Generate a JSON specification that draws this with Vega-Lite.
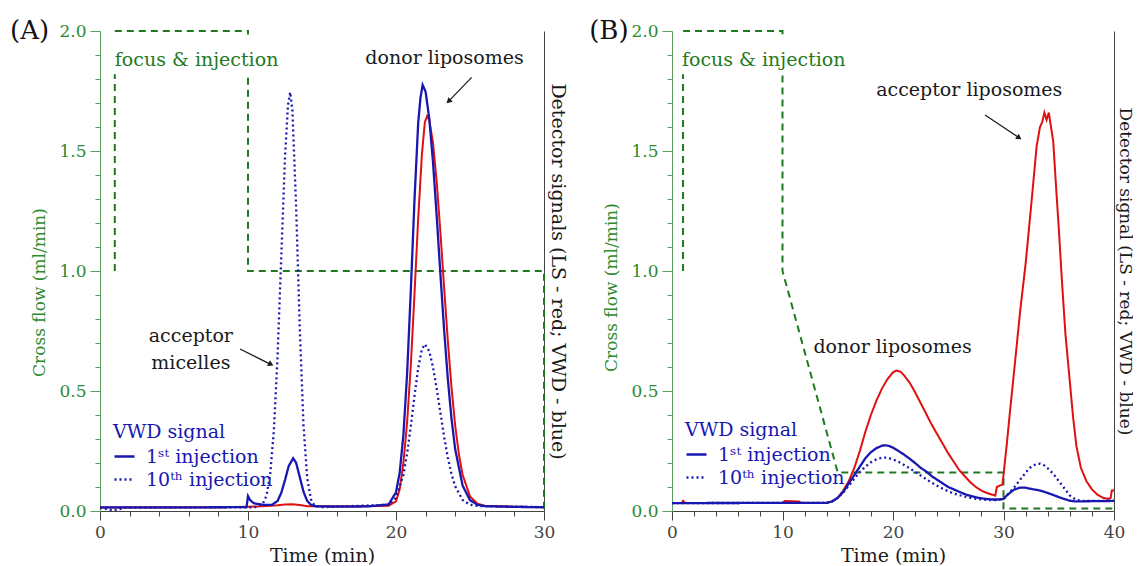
{
  "$schema": "https://vega.github.io/schema/vega-lite/v6.json",
  "padding": {"left": 10, "top": 18, "right": 0, "bottom": 0},
  "spacing": 128,
  "bounds": "flush",
  "config": {
    "font": "DejaVu Serif",
    "view": {"stroke": null},
    "axis": {"labelFont": "DejaVu Serif", "titleFont": "DejaVu Serif", "titleFontWeight": "normal", "grid": false, "labelOverlap": false, "labelBound": false, "labelFlush": false},
    "legend": {"labelFont": "DejaVu Serif", "titleFont": "DejaVu Serif", "titleFontWeight": "normal"},
    "text": {"font": "DejaVu Serif"}
  },
  "resolve": {"scale": {"strokeDash": "independent", "x": "independent", "y": "independent"}, "legend": {"strokeDash": "independent"}},
  "datasets": {
    "one": [{}],
    "flowA": [
      {"t": 1, "flow": 1.0}, {"t": 1, "flow": 2.0}, {"t": 10, "flow": 2.0}, {"t": 10, "flow": 1.0},
      {"t": 30, "flow": 1.0}, {"t": 30, "flow": 0.0}
    ],
    "flowB": [
      {"t": 1, "flow": 1.0}, {"t": 1, "flow": 2.0}, {"t": 10, "flow": 2.0}, {"t": 10, "flow": 1.0},
      {"t": 15, "flow": 0.16}, {"t": 30, "flow": 0.16}, {"t": 30, "flow": 0.01}, {"t": 40, "flow": 0.01}
    ],
    "sigA": [
      {"t": 0, "v": 0.015, "s": "LS"}, {"t": 2, "v": 0.015, "s": "LS"}, {"t": 5, "v": 0.015, "s": "LS"}, {"t": 8, "v": 0.016, "s": "LS"},
      {"t": 10, "v": 0.018, "s": "LS"}, {"t": 11, "v": 0.02, "s": "LS"}, {"t": 12, "v": 0.024, "s": "LS"}, {"t": 12.5, "v": 0.027, "s": "LS"},
      {"t": 13, "v": 0.028, "s": "LS"}, {"t": 13.5, "v": 0.025, "s": "LS"}, {"t": 14, "v": 0.02, "s": "LS"}, {"t": 16, "v": 0.02, "s": "LS"},
      {"t": 18, "v": 0.02, "s": "LS"}, {"t": 19.5, "v": 0.022, "s": "LS"}, {"t": 20, "v": 0.04, "s": "LS"}, {"t": 20.25, "v": 0.09, "s": "LS"},
      {"t": 20.5, "v": 0.2, "s": "LS"}, {"t": 20.75, "v": 0.369, "s": "LS"}, {"t": 21, "v": 0.606, "s": "LS"}, {"t": 21.25, "v": 0.904, "s": "LS"},
      {"t": 21.5, "v": 1.219, "s": "LS"}, {"t": 21.75, "v": 1.486, "s": "LS"}, {"t": 21.95, "v": 1.62, "s": "LS"}, {"t": 22.1, "v": 1.645, "s": "LS"},
      {"t": 22.25, "v": 1.629, "s": "LS"}, {"t": 22.5, "v": 1.535, "s": "LS"}, {"t": 22.75, "v": 1.371, "s": "LS"}, {"t": 23, "v": 1.161, "s": "LS"},
      {"t": 23.25, "v": 0.932, "s": "LS"}, {"t": 23.5, "v": 0.711, "s": "LS"}, {"t": 23.75, "v": 0.515, "s": "LS"}, {"t": 24, "v": 0.356, "s": "LS"},
      {"t": 24.25, "v": 0.236, "s": "LS"}, {"t": 24.5, "v": 0.151, "s": "LS"}, {"t": 25, "v": 0.061, "s": "LS"}, {"t": 25.5, "v": 0.03, "s": "LS"},
      {"t": 26, "v": 0.022, "s": "LS"}, {"t": 28, "v": 0.018, "s": "LS"}, {"t": 30, "v": 0.016, "s": "LS"},

      {"t": 0, "v": 0.015, "s": "1ˢᵗ injection"}, {"t": 5, "v": 0.015, "s": "1ˢᵗ injection"}, {"t": 9.9, "v": 0.016, "s": "1ˢᵗ injection"},
      {"t": 10, "v": 0.062, "s": "1ˢᵗ injection"}, {"t": 10.15, "v": 0.045, "s": "1ˢᵗ injection"}, {"t": 10.4, "v": 0.032, "s": "1ˢᵗ injection"},
      {"t": 11, "v": 0.026, "s": "1ˢᵗ injection"}, {"t": 11.6, "v": 0.025, "s": "1ˢᵗ injection"}, {"t": 12, "v": 0.042, "s": "1ˢᵗ injection"},
      {"t": 12.25, "v": 0.076, "s": "1ˢᵗ injection"}, {"t": 12.5, "v": 0.129, "s": "1ˢᵗ injection"}, {"t": 12.75, "v": 0.187, "s": "1ˢᵗ injection"},
      {"t": 13.05, "v": 0.22, "s": "1ˢᵗ injection"}, {"t": 13.25, "v": 0.201, "s": "1ˢᵗ injection"}, {"t": 13.5, "v": 0.141, "s": "1ˢᵗ injection"},
      {"t": 13.75, "v": 0.08, "s": "1ˢᵗ injection"}, {"t": 14, "v": 0.042, "s": "1ˢᵗ injection"}, {"t": 14.25, "v": 0.026, "s": "1ˢᵗ injection"},
      {"t": 14.5, "v": 0.02, "s": "1ˢᵗ injection"}, {"t": 16, "v": 0.018, "s": "1ˢᵗ injection"}, {"t": 18, "v": 0.019, "s": "1ˢᵗ injection"},
      {"t": 19.5, "v": 0.027, "s": "1ˢᵗ injection"}, {"t": 20, "v": 0.078, "s": "1ˢᵗ injection"}, {"t": 20.25, "v": 0.16, "s": "1ˢᵗ injection"},
      {"t": 20.5, "v": 0.317, "s": "1ˢᵗ injection"}, {"t": 20.75, "v": 0.571, "s": "1ˢᵗ injection"}, {"t": 21, "v": 0.917, "s": "1ˢᵗ injection"},
      {"t": 21.25, "v": 1.297, "s": "1ˢᵗ injection"}, {"t": 21.5, "v": 1.617, "s": "1ˢᵗ injection"}, {"t": 21.65, "v": 1.72, "s": "1ˢᵗ injection"},
      {"t": 21.8, "v": 1.775, "s": "1ˢᵗ injection"}, {"t": 22, "v": 1.747, "s": "1ˢᵗ injection"}, {"t": 22.25, "v": 1.634, "s": "1ˢᵗ injection"},
      {"t": 22.5, "v": 1.454, "s": "1ˢᵗ injection"}, {"t": 22.75, "v": 1.229, "s": "1ˢᵗ injection"}, {"t": 23, "v": 0.988, "s": "1ˢᵗ injection"},
      {"t": 23.25, "v": 0.756, "s": "1ˢᵗ injection"}, {"t": 23.5, "v": 0.552, "s": "1ˢᵗ injection"}, {"t": 23.75, "v": 0.385, "s": "1ˢᵗ injection"},
      {"t": 24, "v": 0.257, "s": "1ˢᵗ injection"}, {"t": 24.5, "v": 0.106, "s": "1ˢᵗ injection"}, {"t": 25, "v": 0.045, "s": "1ˢᵗ injection"},
      {"t": 25.5, "v": 0.026, "s": "1ˢᵗ injection"}, {"t": 26, "v": 0.02, "s": "1ˢᵗ injection"}, {"t": 28, "v": 0.017, "s": "1ˢᵗ injection"},
      {"t": 30, "v": 0.016, "s": "1ˢᵗ injection"},

      {"t": 0, "v": 0.014, "s": "10ᵗʰ injection"}, {"t": 0.9, "v": 0.002, "s": "10ᵗʰ injection"}, {"t": 1.7, "v": 0.014, "s": "10ᵗʰ injection"},
      {"t": 5, "v": 0.015, "s": "10ᵗʰ injection"}, {"t": 10, "v": 0.015, "s": "10ᵗʰ injection"}, {"t": 10.5, "v": 0.016, "s": "10ᵗʰ injection"},
      {"t": 11, "v": 0.03, "s": "10ᵗʰ injection"}, {"t": 11.25, "v": 0.064, "s": "10ᵗʰ injection"}, {"t": 11.5, "v": 0.153, "s": "10ᵗʰ injection"},
      {"t": 11.75, "v": 0.337, "s": "10ᵗʰ injection"}, {"t": 12, "v": 0.649, "s": "10ᵗʰ injection"}, {"t": 12.25, "v": 1.064, "s": "10ᵗʰ injection"},
      {"t": 12.5, "v": 1.474, "s": "10ᵗʰ injection"}, {"t": 12.7, "v": 1.691, "s": "10ᵗʰ injection"}, {"t": 12.85, "v": 1.745, "s": "10ᵗʰ injection"},
      {"t": 13, "v": 1.669, "s": "10ᵗʰ injection"}, {"t": 13.25, "v": 1.271, "s": "10ᵗʰ injection"}, {"t": 13.5, "v": 0.758, "s": "10ᵗʰ injection"},
      {"t": 13.75, "v": 0.357, "s": "10ᵗʰ injection"}, {"t": 14, "v": 0.138, "s": "10ᵗʰ injection"}, {"t": 14.25, "v": 0.049, "s": "10ᵗʰ injection"},
      {"t": 14.5, "v": 0.022, "s": "10ᵗʰ injection"}, {"t": 15, "v": 0.016, "s": "10ᵗʰ injection"}, {"t": 19.5, "v": 0.026, "s": "10ᵗʰ injection"},
      {"t": 20, "v": 0.055, "s": "10ᵗʰ injection"}, {"t": 20.5, "v": 0.151, "s": "10ᵗʰ injection"}, {"t": 20.75, "v": 0.239, "s": "10ᵗʰ injection"},
      {"t": 21, "v": 0.353, "s": "10ᵗʰ injection"}, {"t": 21.25, "v": 0.48, "s": "10ᵗʰ injection"}, {"t": 21.5, "v": 0.596, "s": "10ᵗʰ injection"},
      {"t": 21.75, "v": 0.674, "s": "10ᵗʰ injection"}, {"t": 21.95, "v": 0.695, "s": "10ᵗʰ injection"}, {"t": 22.25, "v": 0.665, "s": "10ᵗʰ injection"},
      {"t": 22.5, "v": 0.6, "s": "10ᵗʰ injection"}, {"t": 22.75, "v": 0.51, "s": "10ᵗʰ injection"}, {"t": 23, "v": 0.409, "s": "10ᵗʰ injection"},
      {"t": 23.25, "v": 0.31, "s": "10ᵗʰ injection"}, {"t": 23.5, "v": 0.223, "s": "10ᵗʰ injection"}, {"t": 23.75, "v": 0.154, "s": "10ᵗʰ injection"},
      {"t": 24, "v": 0.103, "s": "10ᵗʰ injection"}, {"t": 24.5, "v": 0.046, "s": "10ᵗʰ injection"}, {"t": 25, "v": 0.026, "s": "10ᵗʰ injection"},
      {"t": 25.5, "v": 0.021, "s": "10ᵗʰ injection"}, {"t": 30, "v": 0.016, "s": "10ᵗʰ injection"}
    ],
    "sigB": [
      {"t": 0, "v": 0.033, "s": "LS"}, {"t": 0.9, "v": 0.033, "s": "LS"}, {"t": 1.0, "v": 0.042, "s": "LS"}, {"t": 1.2, "v": 0.033, "s": "LS"},
      {"t": 10, "v": 0.033, "s": "LS"}, {"t": 10.2, "v": 0.042, "s": "LS"}, {"t": 11.5, "v": 0.04, "s": "LS"}, {"t": 11.7, "v": 0.033, "s": "LS"},
      {"t": 14, "v": 0.034, "s": "LS"}, {"t": 14.5, "v": 0.04, "s": "LS"}, {"t": 15, "v": 0.055, "s": "LS"}, {"t": 15.5, "v": 0.085, "s": "LS"},
      {"t": 16, "v": 0.125, "s": "LS"}, {"t": 16.5, "v": 0.18, "s": "LS"}, {"t": 17, "v": 0.25, "s": "LS"}, {"t": 17.5, "v": 0.33, "s": "LS"},
      {"t": 18, "v": 0.4, "s": "LS"}, {"t": 18.5, "v": 0.46, "s": "LS"}, {"t": 19, "v": 0.51, "s": "LS"}, {"t": 19.5, "v": 0.55, "s": "LS"},
      {"t": 20, "v": 0.578, "s": "LS"}, {"t": 20.3, "v": 0.585, "s": "LS"}, {"t": 20.7, "v": 0.58, "s": "LS"}, {"t": 21, "v": 0.565, "s": "LS"},
      {"t": 21.5, "v": 0.535, "s": "LS"}, {"t": 22, "v": 0.495, "s": "LS"}, {"t": 22.5, "v": 0.45, "s": "LS"}, {"t": 23, "v": 0.405, "s": "LS"},
      {"t": 23.5, "v": 0.36, "s": "LS"}, {"t": 24, "v": 0.32, "s": "LS"}, {"t": 24.5, "v": 0.28, "s": "LS"}, {"t": 25, "v": 0.24, "s": "LS"},
      {"t": 25.5, "v": 0.205, "s": "LS"}, {"t": 26, "v": 0.17, "s": "LS"}, {"t": 26.5, "v": 0.145, "s": "LS"}, {"t": 27, "v": 0.12, "s": "LS"},
      {"t": 27.5, "v": 0.1, "s": "LS"}, {"t": 28, "v": 0.085, "s": "LS"}, {"t": 28.5, "v": 0.075, "s": "LS"}, {"t": 29, "v": 0.068, "s": "LS"},
      {"t": 29.25, "v": 0.064, "s": "LS"}, {"t": 29.4, "v": 0.1, "s": "LS"}, {"t": 29.6, "v": 0.105, "s": "LS"}, {"t": 29.9, "v": 0.11, "s": "LS"},
      {"t": 30, "v": 0.15, "s": "LS"}, {"t": 30.3, "v": 0.28, "s": "LS"}, {"t": 30.6, "v": 0.42, "s": "LS"}, {"t": 31, "v": 0.6, "s": "LS"},
      {"t": 31.5, "v": 0.83, "s": "LS"}, {"t": 32, "v": 1.03, "s": "LS"}, {"t": 32.5, "v": 1.27, "s": "LS"}, {"t": 33, "v": 1.52, "s": "LS"},
      {"t": 33.3, "v": 1.6, "s": "LS"}, {"t": 33.5, "v": 1.62, "s": "LS"}, {"t": 33.7, "v": 1.66, "s": "LS"}, {"t": 33.9, "v": 1.63, "s": "LS"},
      {"t": 34.1, "v": 1.66, "s": "LS"}, {"t": 34.3, "v": 1.6, "s": "LS"}, {"t": 34.5, "v": 1.54, "s": "LS"}, {"t": 34.8, "v": 1.32, "s": "LS"},
      {"t": 35, "v": 1.18, "s": "LS"}, {"t": 35.3, "v": 0.95, "s": "LS"}, {"t": 35.6, "v": 0.74, "s": "LS"}, {"t": 36, "v": 0.54, "s": "LS"},
      {"t": 36.3, "v": 0.39, "s": "LS"}, {"t": 36.6, "v": 0.27, "s": "LS"}, {"t": 37, "v": 0.18, "s": "LS"}, {"t": 37.5, "v": 0.125, "s": "LS"},
      {"t": 38, "v": 0.09, "s": "LS"}, {"t": 38.5, "v": 0.068, "s": "LS"}, {"t": 39, "v": 0.055, "s": "LS"}, {"t": 39.5, "v": 0.05, "s": "LS"},
      {"t": 39.7, "v": 0.055, "s": "LS"}, {"t": 39.8, "v": 0.085, "s": "LS"}, {"t": 40, "v": 0.085, "s": "LS"},

      {"t": 0, "v": 0.033, "s": "1ˢᵗ injection"}, {"t": 14, "v": 0.034, "s": "1ˢᵗ injection"}, {"t": 14.5, "v": 0.04, "s": "1ˢᵗ injection"},
      {"t": 15, "v": 0.055, "s": "1ˢᵗ injection"}, {"t": 15.5, "v": 0.08, "s": "1ˢᵗ injection"}, {"t": 16, "v": 0.115, "s": "1ˢᵗ injection"},
      {"t": 16.5, "v": 0.15, "s": "1ˢᵗ injection"}, {"t": 17, "v": 0.185, "s": "1ˢᵗ injection"}, {"t": 17.5, "v": 0.22, "s": "1ˢᵗ injection"},
      {"t": 18, "v": 0.245, "s": "1ˢᵗ injection"}, {"t": 18.5, "v": 0.262, "s": "1ˢᵗ injection"}, {"t": 19, "v": 0.272, "s": "1ˢᵗ injection"},
      {"t": 19.3, "v": 0.274, "s": "1ˢᵗ injection"}, {"t": 19.7, "v": 0.27, "s": "1ˢᵗ injection"}, {"t": 20, "v": 0.264, "s": "1ˢᵗ injection"},
      {"t": 20.5, "v": 0.25, "s": "1ˢᵗ injection"}, {"t": 21, "v": 0.235, "s": "1ˢᵗ injection"}, {"t": 21.5, "v": 0.218, "s": "1ˢᵗ injection"},
      {"t": 22, "v": 0.2, "s": "1ˢᵗ injection"}, {"t": 22.5, "v": 0.18, "s": "1ˢᵗ injection"}, {"t": 23, "v": 0.165, "s": "1ˢᵗ injection"},
      {"t": 23.5, "v": 0.145, "s": "1ˢᵗ injection"}, {"t": 24, "v": 0.13, "s": "1ˢᵗ injection"}, {"t": 24.5, "v": 0.115, "s": "1ˢᵗ injection"},
      {"t": 25, "v": 0.1, "s": "1ˢᵗ injection"}, {"t": 25.5, "v": 0.09, "s": "1ˢᵗ injection"}, {"t": 26, "v": 0.08, "s": "1ˢᵗ injection"},
      {"t": 26.5, "v": 0.07, "s": "1ˢᵗ injection"}, {"t": 27, "v": 0.063, "s": "1ˢᵗ injection"}, {"t": 27.5, "v": 0.057, "s": "1ˢᵗ injection"},
      {"t": 28, "v": 0.053, "s": "1ˢᵗ injection"}, {"t": 28.5, "v": 0.05, "s": "1ˢᵗ injection"}, {"t": 29, "v": 0.048, "s": "1ˢᵗ injection"},
      {"t": 29.5, "v": 0.048, "s": "1ˢᵗ injection"}, {"t": 30, "v": 0.05, "s": "1ˢᵗ injection"}, {"t": 30.3, "v": 0.065, "s": "1ˢᵗ injection"},
      {"t": 30.7, "v": 0.08, "s": "1ˢᵗ injection"}, {"t": 31, "v": 0.09, "s": "1ˢᵗ injection"}, {"t": 31.5, "v": 0.097, "s": "1ˢᵗ injection"},
      {"t": 32, "v": 0.097, "s": "1ˢᵗ injection"}, {"t": 32.5, "v": 0.092, "s": "1ˢᵗ injection"}, {"t": 33, "v": 0.088, "s": "1ˢᵗ injection"},
      {"t": 33.5, "v": 0.083, "s": "1ˢᵗ injection"}, {"t": 34, "v": 0.075, "s": "1ˢᵗ injection"}, {"t": 34.5, "v": 0.067, "s": "1ˢᵗ injection"},
      {"t": 35, "v": 0.058, "s": "1ˢᵗ injection"}, {"t": 35.5, "v": 0.05, "s": "1ˢᵗ injection"}, {"t": 36, "v": 0.043, "s": "1ˢᵗ injection"},
      {"t": 36.5, "v": 0.04, "s": "1ˢᵗ injection"}, {"t": 40, "v": 0.042, "s": "1ˢᵗ injection"},

      {"t": 0, "v": 0.033, "s": "10ᵗʰ injection"}, {"t": 14, "v": 0.034, "s": "10ᵗʰ injection"}, {"t": 14.5, "v": 0.04, "s": "10ᵗʰ injection"},
      {"t": 15, "v": 0.055, "s": "10ᵗʰ injection"}, {"t": 15.5, "v": 0.078, "s": "10ᵗʰ injection"}, {"t": 16, "v": 0.105, "s": "10ᵗʰ injection"},
      {"t": 16.5, "v": 0.135, "s": "10ᵗʰ injection"}, {"t": 17, "v": 0.162, "s": "10ᵗʰ injection"}, {"t": 17.5, "v": 0.185, "s": "10ᵗʰ injection"},
      {"t": 18, "v": 0.203, "s": "10ᵗʰ injection"}, {"t": 18.5, "v": 0.215, "s": "10ᵗʰ injection"}, {"t": 19, "v": 0.222, "s": "10ᵗʰ injection"},
      {"t": 19.5, "v": 0.222, "s": "10ᵗʰ injection"}, {"t": 20, "v": 0.215, "s": "10ᵗʰ injection"}, {"t": 20.5, "v": 0.205, "s": "10ᵗʰ injection"},
      {"t": 21, "v": 0.192, "s": "10ᵗʰ injection"}, {"t": 21.5, "v": 0.178, "s": "10ᵗʰ injection"}, {"t": 22, "v": 0.163, "s": "10ᵗʰ injection"},
      {"t": 22.5, "v": 0.148, "s": "10ᵗʰ injection"}, {"t": 23, "v": 0.133, "s": "10ᵗʰ injection"}, {"t": 23.5, "v": 0.118, "s": "10ᵗʰ injection"},
      {"t": 24, "v": 0.105, "s": "10ᵗʰ injection"}, {"t": 24.5, "v": 0.093, "s": "10ᵗʰ injection"}, {"t": 25, "v": 0.082, "s": "10ᵗʰ injection"},
      {"t": 25.5, "v": 0.073, "s": "10ᵗʰ injection"}, {"t": 26, "v": 0.066, "s": "10ᵗʰ injection"}, {"t": 26.5, "v": 0.06, "s": "10ᵗʰ injection"},
      {"t": 27, "v": 0.055, "s": "10ᵗʰ injection"}, {"t": 27.5, "v": 0.051, "s": "10ᵗʰ injection"}, {"t": 28, "v": 0.048, "s": "10ᵗʰ injection"},
      {"t": 28.5, "v": 0.046, "s": "10ᵗʰ injection"}, {"t": 29, "v": 0.045, "s": "10ᵗʰ injection"}, {"t": 29.5, "v": 0.046, "s": "10ᵗʰ injection"},
      {"t": 30, "v": 0.05, "s": "10ᵗʰ injection"}, {"t": 30.5, "v": 0.075, "s": "10ᵗʰ injection"}, {"t": 31, "v": 0.1, "s": "10ᵗʰ injection"},
      {"t": 31.5, "v": 0.13, "s": "10ᵗʰ injection"}, {"t": 32, "v": 0.16, "s": "10ᵗʰ injection"}, {"t": 32.5, "v": 0.185, "s": "10ᵗʰ injection"},
      {"t": 33, "v": 0.196, "s": "10ᵗʰ injection"}, {"t": 33.3, "v": 0.197, "s": "10ᵗʰ injection"}, {"t": 33.7, "v": 0.19, "s": "10ᵗʰ injection"},
      {"t": 34, "v": 0.178, "s": "10ᵗʰ injection"}, {"t": 34.5, "v": 0.155, "s": "10ᵗʰ injection"}, {"t": 35, "v": 0.125, "s": "10ᵗʰ injection"},
      {"t": 35.5, "v": 0.095, "s": "10ᵗʰ injection"}, {"t": 36, "v": 0.065, "s": "10ᵗʰ injection"}, {"t": 36.5, "v": 0.048, "s": "10ᵗʰ injection"},
      {"t": 37, "v": 0.042, "s": "10ᵗʰ injection"}, {"t": 40, "v": 0.042, "s": "10ᵗʰ injection"}
    ]
  },
  "hconcat": [
    {
      "width": 444,
      "height": 480,
      "resolve": {"scale": {"x": "independent", "y": "independent"}},
      "layer": [
        {
          "data": {"name": "one"},
          "mark": {"type": "point", "opacity": 0},
          "encoding": {
            "x": {"datum": 0, "type": "quantitative", "scale": {"domain": [0, 30], "nice": false},
              "axis": {"orient": "bottom", "title": null, "labels": false, "domain": false, "tickSize": 5, "tickColor": "#444",
                "values": [2,4,6,8,12,14,16,18,22,24,26,28]}},
            "y": {"datum": 0, "type": "quantitative", "scale": {"domain": [0, 2], "nice": false},
              "axis": {"orient": "left", "title": null, "labels": false, "domain": false, "tickSize": 5, "tickColor": "#5c9c5c",
                "values": [0.1,0.2,0.3,0.4,0.6,0.7,0.8,0.9,1.1,1.2,1.3,1.4,1.6,1.7,1.8,1.9]}}
          }
        },
        {
          "layer": [
            {
              "data": {"name": "flowA"},
              "mark": {"type": "line", "color": "#1f7a1f", "strokeDash": [7, 5], "strokeWidth": 2},
              "encoding": {
                "x": {"field": "t", "type": "quantitative", "scale": {"domain": [0, 30], "nice": false},
                  "axis": {"orient": "bottom", "title": "Time (min)", "values": [0, 10, 20, 30], "format": "d",
                    "tickSize": 9, "domainColor": "#444", "tickColor": "#444", "labelColor": "#444", "titleColor": "#1a1a1a",
                    "labelFontSize": 17, "titleFontSize": 19, "labelPadding": 4, "titlePadding": 6}},
                "y": {"field": "flow", "type": "quantitative", "scale": {"domain": [0, 2], "nice": false},
                  "axis": {"orient": "left", "title": "Cross flow (ml/min)", "values": [0, 0.5, 1, 1.5, 2], "format": ".1f",
                    "tickSize": 10, "domainColor": "#5c9c5c", "tickColor": "#5c9c5c", "labelColor": "#2e8b2e", "titleColor": "#2e8b2e",
                    "labelFontSize": 17, "titleFontSize": 17, "titleY": 261, "labelPadding": 4, "titlePadding": 10}}
              }
            },
            {
              "data": {"name": "one"},
              "mark": {"type": "rect", "color": "white"},
              "encoding": {"x": {"datum": 0.6}, "x2": {"datum": 10.4}, "y": {"datum": 1.82}, "y2": {"datum": 1.985}}
            },
            {
              "data": {"name": "one"},
              "mark": {"type": "text", "align": "left", "baseline": "alphabetic", "fontSize": 19, "color": "#1f7a1f"},
              "encoding": {"x": {"datum": 1.0}, "y": {"datum": 1.856}, "text": {"value": "focus & injection"}}
            },
            {
              "data": {"name": "one"},
              "mark": {"type": "text", "align": "left", "baseline": "alphabetic", "fontSize": 26, "color": "#111"},
              "encoding": {"x": {"datum": -6.08}, "y": {"datum": 1.965}, "text": {"value": "(A)"}}
            },
            {
              "data": {"name": "one"},
              "mark": {"type": "text", "align": "center", "baseline": "alphabetic", "fontSize": 19, "color": "#1a1a1a"},
              "encoding": {"x": {"datum": 23.28}, "y": {"datum": 1.861}, "text": {"value": "donor liposomes"}}
            },
            {
              "data": {"name": "one"},
              "mark": {"type": "text", "align": "center", "baseline": "alphabetic", "fontSize": 19, "lineHeight": 27, "color": "#1a1a1a"},
              "encoding": {"x": {"datum": 6.14}, "y": {"datum": 0.705}, "text": {"value": ["acceptor", "micelles"]}}
            },
            {
              "data": {"name": "one"},
              "mark": {"type": "rule", "color": "#1a1a1a", "strokeWidth": 1.2},
              "encoding": {"x": {"datum": 25.11}, "y": {"datum": 1.807}, "x2": {"datum": 23.6}, "y2": {"datum": 1.71}}
            },
            {
              "data": {"name": "one"},
              "mark": {"type": "point", "shape": "triangle-up", "angle": 226, "filled": true, "size": 40, "color": "#1a1a1a", "opacity": 1},
              "encoding": {"x": {"datum": 23.55}, "y": {"datum": 1.707}}
            },
            {
              "data": {"name": "one"},
              "mark": {"type": "rule", "color": "#1a1a1a", "strokeWidth": 1.2},
              "encoding": {"x": {"datum": 9.46}, "y": {"datum": 0.675}, "x2": {"datum": 11.5}, "y2": {"datum": 0.612}}
            },
            {
              "data": {"name": "one"},
              "mark": {"type": "point", "shape": "triangle-up", "angle": 117, "filled": true, "size": 40, "color": "#1a1a1a", "opacity": 1},
              "encoding": {"x": {"datum": 11.55}, "y": {"datum": 0.611}}
            }
          ]
        },
        {
          "data": {"name": "sigA"},
          "layer": [
            {
              "transform": [{"filter": "datum.s === 'LS'"}],
              "mark": {"type": "line", "color": "#e01010", "strokeWidth": 2},
              "encoding": {
                "x": {"field": "t", "type": "quantitative", "scale": {"domain": [0, 30], "nice": false}, "axis": null},
                "y": {"field": "v", "type": "quantitative", "scale": {"domain": [0, 2], "nice": false},
                  "axis": {"orient": "right", "title": "Detector signals (LS - red; VWD - blue)", "labels": false, "ticks": false,
                    "domainColor": "#444", "titleColor": "#1a1a1a", "titleFontSize": 19, "titlePadding": 3}}
              }
            },
            {
              "transform": [{"filter": "datum.s !== 'LS'"}],
              "mark": {"type": "line", "color": "#1818b0", "strokeWidth": 2.3},
              "encoding": {
                "x": {"field": "t", "type": "quantitative"},
                "y": {"field": "v", "type": "quantitative"},
                "strokeDash": {"field": "s", "type": "nominal",
                  "scale": {"domain": ["1ˢᵗ injection", "10ᵗʰ injection"], "range": [[1, 0], [2, 3]]},
                  "legend": {"title": "VWD signal", "orient": "none", "legendX": 13, "legendY": 392, "padding": 0,
                    "titleColor": "#1818b0", "labelColor": "#1818b0", "titleFontSize": 19, "labelFontSize": 19,
                    "symbolType": "stroke", "symbolStrokeColor": "#1818b0", "symbolStrokeWidth": 2.5, "symbolSize": 400,
                    "labelOffset": 10, "rowPadding": 1, "titlePadding": 3}}
              }
            }
          ]
        }
      ]
    },
    {
      "width": 442,
      "height": 480,
      "resolve": {"scale": {"x": "independent", "y": "independent"}},
      "layer": [
        {
          "data": {"name": "one"},
          "mark": {"type": "point", "opacity": 0},
          "encoding": {
            "x": {"datum": 0, "type": "quantitative", "scale": {"domain": [0, 40], "nice": false},
              "axis": {"orient": "bottom", "title": null, "labels": false, "domain": false, "tickSize": 5, "tickColor": "#444",
                "values": [2,4,6,8,12,14,16,18,22,24,26,28,32,34,36,38]}},
            "y": {"datum": 0, "type": "quantitative", "scale": {"domain": [0, 2], "nice": false},
              "axis": {"orient": "left", "title": null, "labels": false, "domain": false, "tickSize": 5, "tickColor": "#5c9c5c",
                "values": [0.1,0.2,0.3,0.4,0.6,0.7,0.8,0.9,1.1,1.2,1.3,1.4,1.6,1.7,1.8,1.9]}}
          }
        },
        {
          "layer": [
            {
              "data": {"name": "flowB"},
              "mark": {"type": "line", "color": "#1f7a1f", "strokeDash": [7, 5], "strokeWidth": 2},
              "encoding": {
                "x": {"field": "t", "type": "quantitative", "scale": {"domain": [0, 40], "nice": false},
                  "axis": {"orient": "bottom", "title": "Time (min)", "values": [0, 10, 20, 30, 40], "format": "d",
                    "tickSize": 9, "domainColor": "#444", "tickColor": "#444", "labelColor": "#444", "titleColor": "#1a1a1a",
                    "labelFontSize": 17, "titleFontSize": 19, "labelPadding": 4, "titlePadding": 6}},
                "y": {"field": "flow", "type": "quantitative", "scale": {"domain": [0, 2], "nice": false},
                  "axis": {"orient": "left", "title": "Cross flow (ml/min)", "values": [0, 0.5, 1, 1.5, 2], "format": ".1f",
                    "tickSize": 10, "domainColor": "#5c9c5c", "tickColor": "#5c9c5c", "labelColor": "#2e8b2e", "titleColor": "#2e8b2e",
                    "labelFontSize": 17, "titleFontSize": 17, "titleY": 256, "labelPadding": 4, "titlePadding": 10}}
              }
            },
            {
              "data": {"name": "one"},
              "mark": {"type": "rect", "color": "white"},
              "encoding": {"x": {"datum": 0.6}, "x2": {"datum": 10.4}, "y": {"datum": 1.82}, "y2": {"datum": 1.985}}
            },
            {
              "data": {"name": "one"},
              "mark": {"type": "text", "align": "left", "baseline": "alphabetic", "fontSize": 19, "color": "#1f7a1f"},
              "encoding": {"x": {"datum": 0.9}, "y": {"datum": 1.856}, "text": {"value": "focus & injection"}}
            },
            {
              "data": {"name": "one"},
              "mark": {"type": "text", "align": "left", "baseline": "alphabetic", "fontSize": 26, "color": "#111"},
              "encoding": {"x": {"datum": -7.5}, "y": {"datum": 1.965}, "text": {"value": "(B)"}}
            },
            {
              "data": {"name": "one"},
              "mark": {"type": "text", "align": "center", "baseline": "alphabetic", "fontSize": 19, "color": "#1a1a1a"},
              "encoding": {"x": {"datum": 26.9}, "y": {"datum": 1.729}, "text": {"value": "acceptor liposomes"}}
            },
            {
              "data": {"name": "one"},
              "mark": {"type": "text", "align": "center", "baseline": "alphabetic", "fontSize": 19, "color": "#1a1a1a"},
              "encoding": {"x": {"datum": 19.96}, "y": {"datum": 0.66}, "text": {"value": "donor liposomes"}}
            },
            {
              "data": {"name": "one"},
              "mark": {"type": "rule", "color": "#1a1a1a", "strokeWidth": 1.2},
              "encoding": {"x": {"datum": 28.33}, "y": {"datum": 1.65}, "x2": {"datum": 31.35}, "y2": {"datum": 1.557}}
            },
            {
              "data": {"name": "one"},
              "mark": {"type": "point", "shape": "triangle-up", "angle": 124, "filled": true, "size": 40, "color": "#1a1a1a", "opacity": 1},
              "encoding": {"x": {"datum": 31.42}, "y": {"datum": 1.555}}
            }
          ]
        },
        {
          "data": {"name": "sigB"},
          "layer": [
            {
              "transform": [{"filter": "datum.s === 'LS'"}],
              "mark": {"type": "line", "color": "#e01010", "strokeWidth": 2},
              "encoding": {
                "x": {"field": "t", "type": "quantitative", "scale": {"domain": [0, 40], "nice": false}, "axis": null},
                "y": {"field": "v", "type": "quantitative", "scale": {"domain": [0, 2], "nice": false},
                  "axis": {"orient": "right", "title": "Detector signal (LS - red; VWD - blue)", "labels": false, "ticks": false,
                    "domainColor": "#444", "titleColor": "#1a1a1a", "titleFontSize": 17, "titlePadding": 1}}
              }
            },
            {
              "transform": [{"filter": "datum.s !== 'LS'"}],
              "mark": {"type": "line", "color": "#1818b0", "strokeWidth": 2.3},
              "encoding": {
                "x": {"field": "t", "type": "quantitative"},
                "y": {"field": "v", "type": "quantitative"},
                "strokeDash": {"field": "s", "type": "nominal",
                  "scale": {"domain": ["1ˢᵗ injection", "10ᵗʰ injection"], "range": [[1, 0], [2, 3]]},
                  "legend": {"title": "VWD signal", "orient": "none", "legendX": 13, "legendY": 390, "padding": 0,
                    "titleColor": "#1818b0", "labelColor": "#1818b0", "titleFontSize": 19, "labelFontSize": 19,
                    "symbolType": "stroke", "symbolStrokeColor": "#1818b0", "symbolStrokeWidth": 2.5, "symbolSize": 400,
                    "labelOffset": 10, "rowPadding": 1, "titlePadding": 3}}
              }
            }
          ]
        }
      ]
    }
  ]
}
